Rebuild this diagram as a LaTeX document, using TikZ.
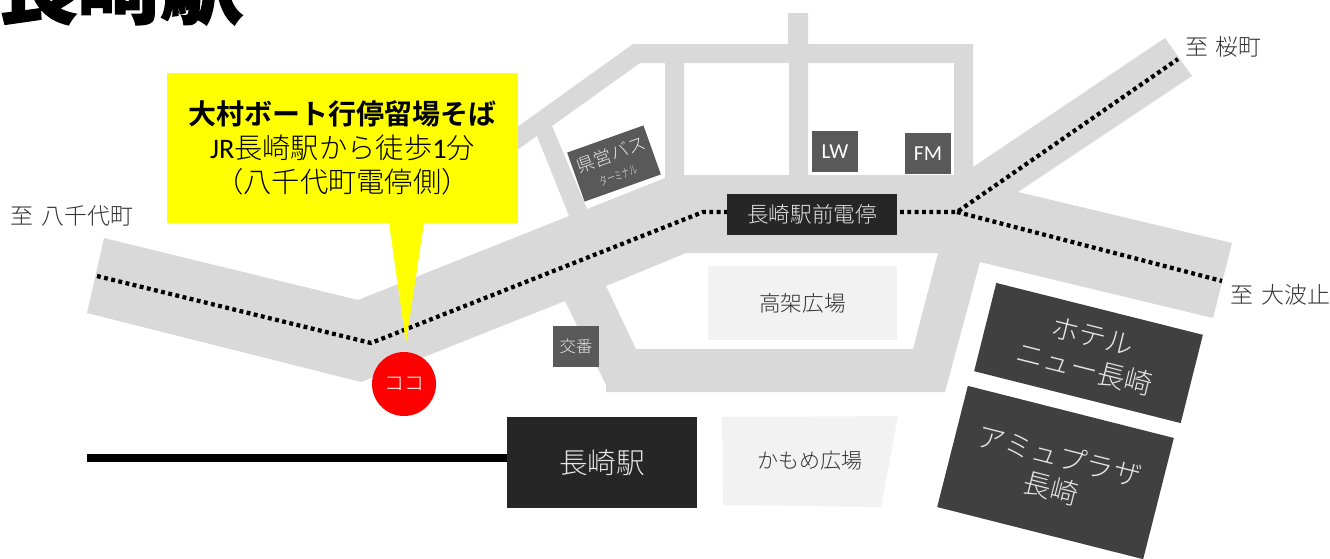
\documentclass[tikz,border=0pt]{standalone}
\usepackage{fontspec}
\setmainfont{Noto Sans CJK JP Light}[BoldFont={Noto Sans CJK JP Bold}]
\newfontfamily\lat{Carlito}
\newfontfamily\titlefont{Noto Sans CJK JP Black}[FakeBold=1.5]
\newfontfamily\narrowjp{Noto Sans CJK JP Light}[FakeStretch=0.65]
\newcommand{\fs}[2]{\fontsize{#1}{#2}\selectfont}
\definecolor{road}{HTML}{D9D9D9}
\definecolor{pale}{HTML}{F2F2F2}
\definecolor{dk}{HTML}{262626}
\definecolor{mid}{HTML}{595959}
\definecolor{bld}{HTML}{404040}
\definecolor{callout}{HTML}{FFFF00}
\definecolor{spot}{HTML}{FF0000}
\definecolor{ink}{HTML}{333333}
\definecolor{pure}{HTML}{000000}
\definecolor{soft}{HTML}{E6E6E6}
\tikzset{
 x=0.75pt,y=-0.75pt,
 box/.style={draw=none,inner sep=0pt,outer sep=0pt,align=center,text=white,anchor=center},
 label/.style={inner sep=0pt,text=ink,font=\fs{17.2}{20}},
 rail/.style={line width=3.2pt,pure,dash pattern=on 2.9pt off 2.6pt},
}
\begin{document}
\begin{tikzpicture}
\useasboundingbox (0,0) rectangle (1330,558);
% title (cropped by the page)
\node[inner sep=0pt,anchor=base west,text=pure] (title) at (-5,17) {\titlefont\fs{62}{62}長崎駅};
% roads
\fill[road,even odd rule]
 (490,146)--(520,125)--(633,44)--(788,44)--(788,13)--(808,13)--(808,44)--(973,44)--(973,167)--(1165,38)--(1192,76)--(1018,192)--(1232,243)--(1213,318)--(980,262)--(945,392)--(606,392)--(606,385)--(565,301)--(361,382)--(87,313)--(104,238)--(358,300)--(569,216)--(537,136)--(490,169)--cycle
 (640,63)--(665,63)--(665,178)--(587,209)--(552,126)--cycle
 (684,63)--(789,63)--(789,175)--(684,175)--cycle
 (808,63)--(954,63)--(954,175)--(808,175)--cycle
 (606,286)--(686,253)--(938,253)--(913,349)--(636,349)--cycle;
% rail coordinates
\coordinate (ya) at (97,276);
\coordinate (bend) at (371,343);
\coordinate (tramw) at (703,212);
\coordinate (fork) at (957,212);
\coordinate (saku) at (1178,59);
\coordinate (oha) at (1222,281);
\coordinate (linew) at (87,458);
\draw[rail] (ya)--(bend)--(tramw)--(fork)--(saku);
\draw[rail] (fork)--(oha);
% plaza etc
\node[box,fill=pale,minimum width=189*0.75pt,minimum height=74*0.75pt,text=ink,font=\fs{16.2}{18}] (kouka) at (802.5,303) {高架広場};
\fill[pale] (722,417)--(898,416)--(881,507)--(723,505)--cycle;
\node[inner sep=0pt,text=ink,font=\fs{15.8}{18}] (kamome) at (810,461) {かもめ広場};
% station
\node[box,fill=dk,minimum width=190*0.75pt,minimum height=91*0.75pt,text=soft,font=\fs{21.5}{24}] (eki) at (602,462.5) {長崎駅};
\draw[pure,line width=6.2pt] (linew)--(eki.west |- linew);
\node[box,fill=dk,minimum width=170*0.75pt,minimum height=41*0.75pt,text=soft,font=\fs{16.2}{18}] (tram) at (812,214.5) {長崎駅前電停};
\node[box,fill=mid,minimum width=46*0.75pt,minimum height=41*0.75pt,font=\lat\fs{16}{18}] (lw) at (835,151.5) {LW};
\node[box,fill=mid,minimum width=46*0.75pt,minimum height=41*0.75pt,font=\lat\fs{16}{18}] (fm) at (928,153.5) {FM};
\node[box,fill=mid,minimum width=46*0.75pt,minimum height=41*0.75pt,font=\fs{12.2}{14},text=soft] (koban) at (576,346.5) {交番};
\node[box,fill=mid,rotate=19.6,minimum width=81*0.75pt,minimum height=52*0.75pt,text=soft] (bus) at (614,163.5) {{\fs{13.5}{15}県営バス}\\[3pt]{\narrowjp\fs{9}{10}ターミナル}};
\node[box,fill=bld,rotate=-14.1,minimum width=213*0.75pt,minimum height=91*0.75pt,text=soft,font=\fs{21}{25}] (hotel) at (1088.5,353) {ホテル\\ニュー長崎};
\node[box,fill=bld,rotate=-14.2,minimum width=212.5*0.75pt,minimum height=125*0.75pt,text=soft,font=\fs{21}{25}] (amu) at (1055.5,472.5) {アミュプラザ\\長崎};
% callout
\node[fill=callout,inner sep=0pt,minimum width=351*0.75pt,minimum height=150*0.75pt,align=center,text=pure,font=\fs{21.2}{25.5}] (call) at (342.5,148) {{\bfseries\fs{21}{25.5}大村ボート行停留場そば}\\{\lat JR}長崎駅から徒歩{\lat 1}分\\（八千代町電停側）};
\coordinate (tip) at (406,343);
\fill[callout] (389,222.5)--(tip)--(424,222.5)--cycle;
\node[circle,fill=spot,inner sep=0pt,minimum size=64*0.75pt,text=white,font=\fs{15}{15}] (here) at (404,384) {ココ};
% labels
\node[label] (l1) at (72,216) {至\,\,八千代町};
\node[label] (l2) at (1223.5,47) {至\,\,桜町};
\node[label] (l3) at (1280.5,295) {至\,\,大波止};
\end{tikzpicture}
\end{document}
